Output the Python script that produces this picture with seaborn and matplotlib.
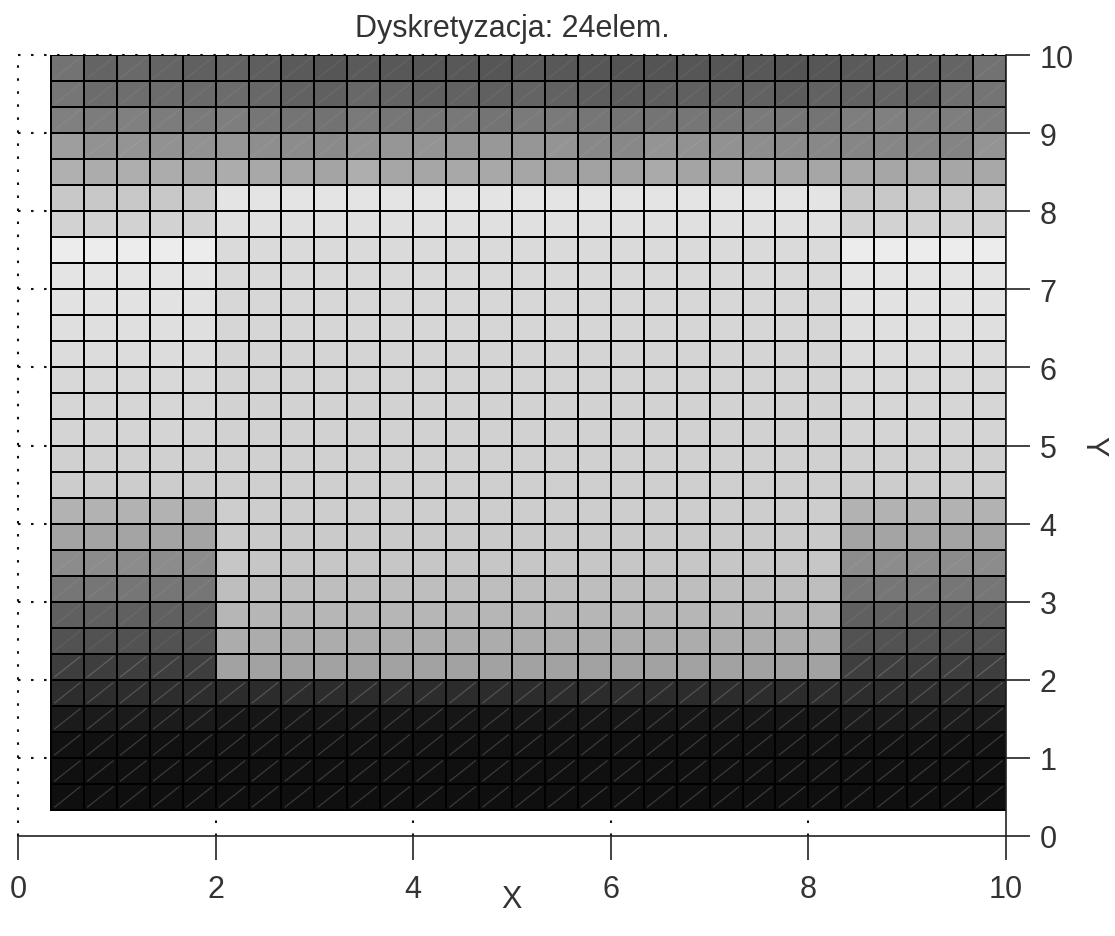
import numpy as np
import pandas as pd
import matplotlib
matplotlib.use("Agg")
import matplotlib.pyplot as plt
from matplotlib.collections import LineCollection
import seaborn as sns

# gray level of the cells, rows go from the top (y=10) down
top_rows = [
    [115, 100, 105, 100, 96, 99, 94, 90, 86, 90, 88, 86, 88, 86, 90, 88, 86, 84, 84, 86, 86, 88, 84, 86, 90, 92, 96, 100, 114],
    [118, 108, 110, 108, 106, 108, 104, 98, 96, 104, 100, 96, 98, 96, 100, 98, 94, 92, 94, 96, 96, 98, 92, 98, 98, 100, 96, 112, 116],
    [128, 124, 128, 124, 122, 126, 118, 116, 114, 122, 118, 118, 120, 116, 122, 122, 118, 116, 116, 118, 118, 122, 118, 116, 126, 128, 124, 126, 124],
    [158, 146, 148, 146, 146, 150, 142, 140, 138, 146, 150, 148, 150, 152, 150, 148, 136, 136, 148, 146, 146, 142, 138, 136, 134, 134, 132, 132, 148],
    [176, 172, 174, 172, 168, 172, 168, 166, 164, 174, 166, 166, 168, 168, 166, 162, 162, 162, 170, 164, 164, 170, 166, 166, 168, 166, 170, 166, 168],
]
edge_rows = [200, 210, 236, 228, 226, 223, 220, 216, 214, 212, 208, 204, 178, 164, 140, 118, 96, 82, 62, 45, 27, 17, 16, 15]
mid_rows = [228, 224, 218, 217, 215, 214, 212, 211, 210, 209, 208, 207, 205, 202, 198, 190, 182, 172, 162, 44, 22, 17, 16, 15]
n_left = 5
n_mid = 19
n_right = 5

x_ticks = [0, 2, 4, 6, 8, 10]
y_ticks = [0, 1, 2, 3, 4, 5, 6, 7, 8, 9, 10]
cells_per_unit = 3

rows = [list(r) for r in top_rows]
for e, m in zip(edge_rows, mid_rows):
    rows.append([e] * n_left + [m] * n_mid + [e] * n_right)
df = pd.DataFrame(rows, dtype=float)

sns.set_theme(style="white")
plt.rcParams["font.family"] = ["Liberation Sans", "DejaVu Sans"]

W, H = 1115, 937
fig = plt.figure(figsize=(W / 100, H / 100), dpi=100)
ax = fig.add_axes([18 / W, (H - 837) / H, (1006 - 18) / W, (837 - 56) / H])

sns.heatmap(df, ax=ax, cmap="gray", vmin=0, vmax=255, cbar=False,
            linewidths=1.3, linecolor="#000000", square=False)

# thin light diagonals left by the triangle mesh in the darker cells
dark, soft = [], []
for r, row in enumerate(rows):
    for c, v in enumerate(row):
        seg = [(c + 0.1, r + 0.9), (c + 0.9, r + 0.1)]
        if v < 70:
            dark.append(seg)
        elif v < 150:
            soft.append(seg)
ax.add_collection(LineCollection(dark, colors="white", linewidths=0.9, alpha=0.18, zorder=1.5))
ax.add_collection(LineCollection(soft, colors="white", linewidths=1.2, alpha=0.05, zorder=1.5))

# the mesh starts at 1/3, so one empty cell is left on the left and below
ax.set_xlim(-1, 29)
ax.set_ylim(30, 0)
ax.set_xticks([v * cells_per_unit - 1 for v in x_ticks])
ax.set_xticklabels([str(v) for v in x_ticks], rotation=0)
ax.set_yticks([(10 - v) * cells_per_unit for v in y_ticks])
ax.set_yticklabels([str(v) for v in y_ticks], rotation=0)
ax.yaxis.tick_right()
ax.yaxis.set_label_position("right")

ax.tick_params(axis="both", length=17.3, width=1.2, color="#222222",
               labelsize=22, labelcolor="#333333")
ax.tick_params(axis="x", bottom=True, pad=10)
ax.tick_params(axis="y", right=True, left=False, pad=7)

ax.set_axisbelow(True)
ax.grid(True, color="#111111", linewidth=1.5, linestyle=(0, (1.2, 5.05)))
for gl in ax.get_xgridlines() + ax.get_ygridlines():
    gl.set_clip_on(False)
# the axis lines themselves sit at x=10 and y=0
ax.get_xgridlines()[-1].set_visible(False)
ax.get_ygridlines()[0].set_visible(False)

for name, spine in ax.spines.items():
    spine.set_visible(name in ("bottom", "right"))
    spine.set_color("#222222")
    spine.set_linewidth(1.2)

ax.set_xlabel("X", fontsize=22, color="#333333", labelpad=-14)
ax.set_ylabel("Y", fontsize=22, color="#333333", rotation=270, labelpad=14, va="center")
ax.set_title("Dyskretyzacja: 24elem.", fontsize=22, color="#333333", pad=14)

fig.savefig("out.png", dpi=100)
